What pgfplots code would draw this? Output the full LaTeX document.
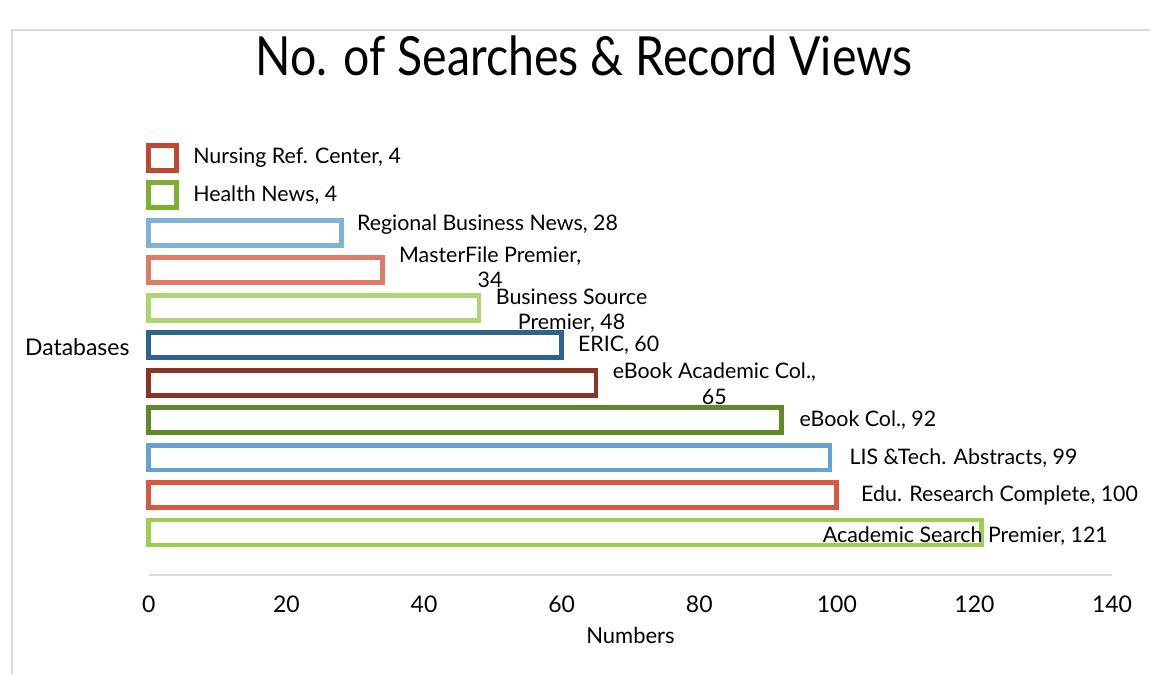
\documentclass[border=0pt]{standalone}
\usepackage{pgfplots}
\pgfplotsset{compat=1.18}
\usepackage{fontspec}
\setmainfont{Lato}
\newfontfamily\titlefont[FakeStretch=0.86]{Lato}
\definecolor{c1}{RGB}{190,72,50}
\definecolor{c2}{RGB}{126,176,48}
\definecolor{c3}{RGB}{128,178,216}
\definecolor{c4}{RGB}{222,123,104}
\definecolor{c5}{RGB}{172,214,114}
\definecolor{c6}{RGB}{44,100,145}
\definecolor{c7}{RGB}{137,52,36}
\definecolor{c8}{RGB}{94,138,42}
\definecolor{c9}{RGB}{101,161,209}
\definecolor{c10}{RGB}{214,90,67}
\definecolor{c11}{RGB}{157,207,77}
\definecolor{framegray}{RGB}{217,217,217}
\tikzset{lbl/.style={font=\fontsize{10.7}{12.6}\selectfont, inner sep=0pt, anchor=west}}
\begin{document}
\begin{tikzpicture}
\path (0,0) rectangle (575.5pt,337.5pt);
\draw[framegray, line width=1pt] (6pt,0) -- (6pt,322.5pt) -- (575.5pt,322.5pt);
\begin{axis}[
  at={(74.5pt,50pt)}, anchor=south west,
  scale only axis, width=482pt, height=217.9pt,
  xmin=0, xmax=140, ymin=-1.12, ymax=10.5,
  xbar, bar width=12.5pt, bar shift=0pt,
  axis x line*=bottom, axis y line*=left,
  x axis line style={framegray, line width=1pt, -},
  y axis line style={draw=none},
  xtick={0,20,...,140}, major tick length=0pt,
  ytick=\empty,
  /pgf/number format/assume math mode=true,
  ticklabel style={font=\fontsize{11.5}{13}\selectfont},
  xticklabel style={yshift=-7pt},
  xlabel={Numbers},
  xlabel style={font=\fontsize{11}{13}\selectfont, at={(axis description cs:0.5,0)}, anchor=center, yshift=-30.5pt},
  ylabel={Databases},
  ylabel style={font=\fontsize{11.5}{13}\selectfont, rotate=-90, inner sep=0pt, at={(axis description cs:0,0.523)}, anchor=east, xshift=-9.5pt},
  title={No. of Searches \& Record Views},
  title style={font=\titlefont\fontsize{27}{32}\selectfont, at={(axis description cs:0.452,1.163)}, anchor=center},
  clip=false,
]
\addplot[draw=c11, fill=white, line width=2.4pt] coordinates {(121,0)};
\addplot[draw=c10, fill=white, line width=2.4pt] coordinates {(100,1)};
\addplot[draw=c9, fill=white, line width=2.4pt] coordinates {(99,2)};
\addplot[draw=c8, fill=white, line width=2.4pt] coordinates {(92,3)};
\addplot[draw=c7, fill=white, line width=2.4pt] coordinates {(65,4)};
\addplot[draw=c6, fill=white, line width=2.4pt] coordinates {(60,5)};
\addplot[draw=c5, fill=white, line width=2.4pt] coordinates {(48,6)};
\addplot[draw=c4, fill=white, line width=2.4pt] coordinates {(34,7)};
\addplot[draw=c3, fill=white, line width=2.4pt] coordinates {(28,8)};
\addplot[draw=c2, fill=white, line width=2.4pt] coordinates {(4,9)};
\addplot[draw=c1, fill=white, line width=2.4pt] coordinates {(4,10)};
\node[lbl, xshift=8.25pt] at (axis cs:4,10) {Nursing Ref. Center, 4};
\node[lbl, xshift=8.25pt] at (axis cs:4,9) {Health News, 4};
\node[lbl, xshift=7.6pt, yshift=4pt] at (axis cs:28,8) {Regional Business News, 28};
\node[lbl, align=center, xshift=8pt, yshift=1.5pt] at (axis cs:34,7) {MasterFile Premier,\\34};
\node[lbl, align=center, xshift=8.2pt, yshift=-1.5pt] at (axis cs:48,6) {Business Source\\Premier, 48};
\node[lbl, xshift=8pt] at (axis cs:60,5) {ERIC, 60};
\node[lbl, align=center, xshift=8.2pt, yshift=-0.5pt] at (axis cs:65,4) {eBook Academic Col.,\\65};
\node[lbl, xshift=8.7pt] at (axis cs:92,3) {eBook Col., 92};
\node[lbl, xshift=9.6pt] at (axis cs:99,2) {LIS \&Tech. Abstracts, 99};
\node[lbl, xshift=12pt] at (axis cs:100,1) {Edu. Research Complete, 100};
\node[lbl, anchor=center, xshift=-8pt, yshift=-2pt] at (axis cs:121,0) {Academic Search Premier, 121};
\end{axis}
\end{tikzpicture}
\end{document}
